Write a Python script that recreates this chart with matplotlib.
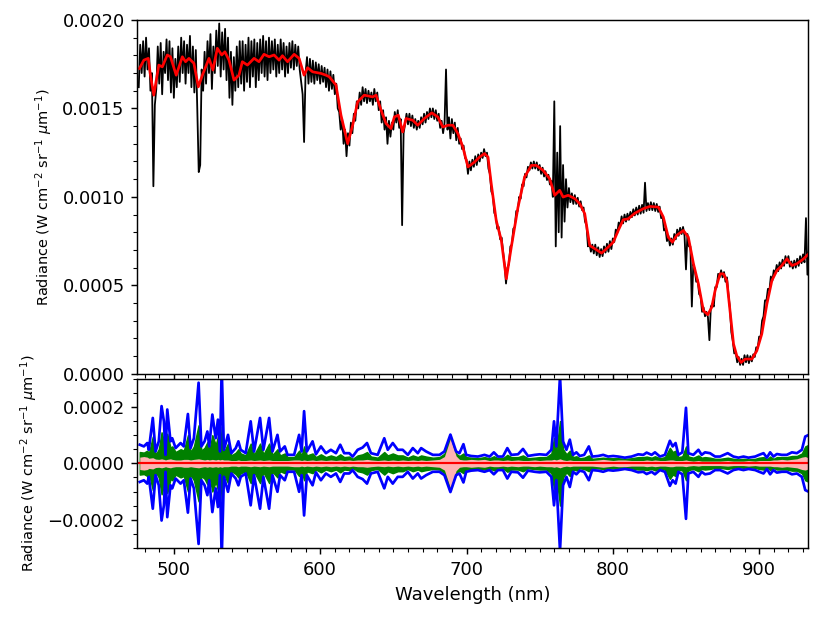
import matplotlib.pyplot as plt
from matplotlib.ticker import MultipleLocator
import numpy as np

# values below are in units of 1e-6 W cm-2 sr-1 um-1
SCALE = 1e-6

# measured spectrum (black), one value per nm from 476 to 934
spec_nm = np.arange(476, 935, 1)
spec_val = [
    1620, 1860, 1700, 1880, 1680, 1900, 1720, 1840, 1600, 1700,
    1060, 1520, 1610, 1850, 1640, 1870, 1580, 1820, 1700, 1890,
    1660, 1880, 1590, 1840, 1560, 1780, 1620, 1850, 1650, 1900,
    1700, 1880, 1640, 1860, 1700, 1910, 1620, 1850, 1590, 1830,
    1500, 1140, 1180, 1720, 1600, 1820, 1640, 1880, 1700, 1920,
    1610, 1850, 1700, 1940, 1740, 1980, 1680, 1930, 1720, 1950,
    1660, 1900, 1560, 1820, 1520, 1790, 1600, 1850, 1620, 1880,
    1640, 1880, 1600, 1860, 1650, 1900, 1620, 1880, 1680, 1890,
    1620, 1870, 1660, 1890, 1700, 1910, 1680, 1880, 1660, 1900,
    1700, 1880, 1720, 1890, 1680, 1860, 1700, 1890, 1720, 1870,
    1680, 1850, 1700, 1870, 1730, 1880, 1720, 1860, 1740, 1850,
    1720, 1650, 1580, 1310, 1700, 1790, 1640, 1780, 1650, 1770,
    1640, 1760, 1660, 1750, 1640, 1740, 1650, 1730, 1620, 1720,
    1600, 1710, 1610, 1690, 1580, 1640, 1500, 1480, 1380, 1440,
    1300, 1380, 1230, 1360, 1290, 1420, 1360, 1470, 1430, 1540,
    1500, 1590, 1520, 1620, 1540, 1610, 1530, 1600, 1540, 1590,
    1520, 1610, 1540, 1590, 1490, 1540, 1420, 1490, 1380, 1450,
    1300, 1430, 1340, 1420, 1380, 1480, 1420, 1490, 1390, 1440,
    840, 1360, 1410, 1470, 1410, 1470, 1400, 1460, 1390, 1440,
    1380, 1430, 1390, 1450, 1410, 1470, 1420, 1480, 1440, 1500,
    1450, 1500, 1440, 1490, 1430, 1470, 1390, 1430, 1360, 1420,
    1720, 1380, 1450, 1330, 1440, 1360, 1420, 1320, 1390, 1300,
    1330, 1270, 1290, 1220, 1210, 1130, 1200, 1150, 1210, 1170,
    1230, 1180, 1240, 1200, 1250, 1220, 1270, 1230, 1250, 1160,
    1130, 1030, 1010, 910, 890, 820, 830, 760, 770, 690,
    620, 510, 600, 620, 720, 730, 820, 830, 920, 920,
    1000, 990, 1070, 1060, 1130, 1110, 1170, 1150, 1195, 1160,
    1200, 1160, 1195, 1150, 1180, 1130, 1165, 1115, 1145, 1095,
    1125, 1070, 1090, 1000, 1540, 720, 1250, 800, 1400, 770,
    1180, 860, 1100, 940, 1050, 970, 1020, 960, 1010, 960,
    995, 945, 975, 925, 940, 860, 840, 720, 740, 690,
    730, 680, 730, 670, 715, 660, 705, 665, 720, 685,
    735, 690, 750, 705, 765, 745, 815, 795, 855, 835,
    890, 850, 900, 860, 905, 870, 915, 885, 930, 895,
    940, 900, 950, 905, 955, 910, 1080, 920, 965, 925,
    970, 925, 965, 920, 960, 915, 945, 880, 890, 810,
    820, 750, 780, 725, 765, 730, 790, 760, 815, 780,
    825, 790, 830, 780, 590, 790, 720, 720, 380, 620,
    590, 520, 530, 450, 440, 350, 375, 325, 350, 320,
    190, 380, 395, 380, 490, 490, 565, 545, 585, 545,
    575, 520, 545, 450, 375, 235, 185, 115, 120, 65,
    95, 50, 85, 50, 105, 65, 105, 60, 100, 70,
    110, 95, 150, 145, 210, 210, 300, 325, 415, 415,
    480, 470, 550, 525, 585, 565, 615, 580, 630, 595,
    645, 610, 665, 625, 665, 605, 635, 595, 640, 600,
    650, 610, 665, 625, 675, 630, 880, 560, 700,
]

# model fit (red)
fit_nm = [
    476.5, 479.5, 482.5, 484.0, 486.3, 489.7, 492.1, 495.5, 497.7, 501.6,
    505.8, 508.0, 510.3, 513.7, 516.7, 519.5, 524.0, 526.7, 529.7, 532.7,
    534.9, 537.7, 541.1, 544.5, 546.8, 550.3, 554.8, 558.2, 561.6, 565.1,
    568.5, 571.9, 574.2, 577.7, 582.2, 585.6, 589.0, 591.4, 594.8, 600.5,
    603.9, 606.2, 610.8, 614.2, 618.8, 622.2, 625.6, 630.1, 635.9, 638.2,
    641.6, 645.0, 648.4, 650.7, 653.4, 656.4, 658.7, 663.3, 666.7, 671.2,
    676.3, 680.4, 683.8, 687.3, 690.7, 694.1, 697.5, 701.0, 705.5, 708.9,
    712.3, 714.7, 716.9, 720.3, 723.8, 727.2, 730.6, 735.2, 739.7, 744.3,
    747.7, 752.3, 756.8, 760.3, 763.7, 766.0, 769.5, 774.0, 777.4, 780.8,
    784.2, 787.7, 792.3, 795.7, 800.3, 803.7, 807.1, 810.5, 815.1, 820.8,
    825.3, 831.1, 834.5, 837.9, 840.7, 843.6, 848.2, 851.6, 855.1, 858.5,
    861.9, 864.9, 867.6, 869.9, 873.3, 875.6, 877.9, 880.1, 882.5, 884.7,
    887.7, 890.4, 895.0, 898.4, 901.8, 905.3, 908.7, 912.1, 915.5, 919.0,
    922.4, 925.8, 930.4, 933.8,
]
fit_val = [
    1726, 1773, 1783, 1688, 1575, 1745, 1735, 1802, 1792, 1688,
    1792, 1764, 1783, 1755, 1622, 1688, 1783, 1717, 1840, 1802,
    1820, 1773, 1660, 1688, 1764, 1745, 1783, 1764, 1806, 1792,
    1802, 1773, 1798, 1764, 1806, 1783, 1688, 1730, 1707, 1698,
    1688, 1679, 1632, 1462, 1301, 1405, 1537, 1575, 1565, 1575,
    1490, 1415, 1386, 1452, 1462, 1367, 1443, 1433, 1405, 1443,
    1475, 1452, 1395, 1405, 1405, 1358, 1282, 1169, 1197, 1225,
    1245, 1225, 1075, 867, 754, 537, 716, 942, 1112, 1178,
    1178, 1150, 1103, 1009, 1037, 999, 1009, 990, 961, 905,
    725, 707, 682, 707, 744, 810, 871, 876, 908, 933,
    946, 942, 886, 772, 744, 782, 810, 772, 622, 508,
    357, 334, 376, 470, 565, 565, 527, 357, 168, 102,
    64, 83, 83, 130, 225, 395, 527, 584, 612, 650,
    612, 622, 650, 678,
]

# residual envelopes (symmetric about zero)
res_nm = [
    476.7, 479.5, 481.8, 482.9, 485.6, 487.5, 489.7, 491.6, 493.2, 494.3,
    495.5, 497.7, 498.9, 501.2, 504.6, 506.8, 509.6, 511.4, 513.7, 516.9,
    518.8, 521.0, 522.9, 524.2, 526.3, 528.6, 530.1, 531.5, 532.7, 534.2,
    537.0, 539.3, 542.3, 544.1, 545.7, 549.1, 552.5, 554.8, 558.9, 561.2,
    565.1, 567.4, 570.8, 572.6, 575.8, 577.7, 582.2, 585.6, 587.3, 589.0,
    590.9, 594.8, 597.1, 600.5, 603.9, 607.3, 610.8, 613.7, 616.4, 619.9,
    622.2, 625.6, 629.0, 632.0, 634.7, 639.3, 643.8, 646.2, 649.6, 653.0,
    656.4, 659.9, 663.3, 666.7, 669.0, 672.4, 677.0, 681.5, 684.9, 689.0,
    692.9, 695.2, 697.9, 699.8, 703.2, 707.8, 712.3, 715.8, 718.7, 721.5,
    724.9, 727.9, 730.6, 735.2, 738.6, 742.0, 746.6, 750.0, 754.6, 758.0,
    759.8, 761.4, 763.9, 766.0, 768.3, 770.6, 772.8, 775.1, 777.4, 780.4,
    783.6, 785.9, 790.0, 793.4, 796.8, 800.2, 803.7, 808.2, 812.8, 817.4,
    820.8, 823.1, 826.5, 828.8, 832.2, 835.6, 839.0, 840.9, 842.9, 844.8,
    847.5, 850.0, 851.6, 855.0, 858.5, 860.7, 863.0, 866.4, 869.9, 873.3,
    878.5, 882.4, 885.9, 889.3, 892.7, 897.3, 900.0, 903.0, 905.3, 907.5,
    909.8, 912.1, 915.5, 918.9, 922.4, 925.8, 929.2, 931.5, 933.5,
]
res_blue = [
    66, 60, 72, 48, 161, 42, 78, 203, 149, 30,
    191, 78, 89, 54, 72, 60, 175, 54, 89, 286,
    60, 78, 113, 60, 173, 89, 155, 42, 340, 48,
    101, 36, 54, 78, 48, 36, 149, 42, 161, 48,
    161, 42, 101, 42, 60, 30, 30, 101, 42, 185,
    42, 78, 32, 60, 36, 48, 36, 66, 36, 36,
    24, 48, 56, 72, 36, 30, 89, 48, 72, 48,
    48, 30, 54, 36, 54, 42, 30, 30, 42, 102,
    42, 36, 68, 30, 26, 24, 30, 24, 39, 24,
    24, 54, 30, 32, 51, 26, 30, 32, 30, 48,
    149, 60, 310, 78, 48, 84, 30, 39, 26, 30,
    60, 24, 26, 30, 24, 26, 24, 20, 24, 32,
    30, 38, 30, 39, 24, 30, 80, 60, 72, 30,
    39, 197, 36, 30, 48, 30, 39, 36, 24, 24,
    36, 24, 20, 24, 20, 24, 30, 36, 20, 39,
    24, 33, 30, 30, 39, 36, 48, 95, 100,
]
res_green = [
    40, 38, 45, 35, 95, 30, 50, 110, 80, 25,
    105, 55, 60, 40, 50, 45, 100, 40, 60, 135,
    45, 55, 75, 45, 100, 65, 95, 35, 130, 40,
    70, 28, 38, 50, 35, 28, 70, 30, 70, 32,
    70, 30, 50, 28, 35, 22, 22, 45, 28, 60,
    28, 35, 22, 32, 22, 28, 22, 32, 22, 24,
    16, 28, 32, 40, 24, 20, 40, 28, 35, 28,
    28, 20, 28, 22, 28, 24, 20, 22, 34, 95,
    34, 26, 35, 22, 20, 18, 22, 18, 25, 18,
    18, 30, 22, 22, 28, 18, 20, 22, 22, 35,
    90, 45, 150, 50, 32, 45, 22, 25, 18, 20,
    28, 16, 18, 20, 18, 18, 18, 16, 18, 22,
    22, 24, 20, 25, 18, 22, 55, 40, 45, 22,
    25, 60, 24, 20, 28, 20, 22, 20, 16, 16,
    20, 16, 14, 16, 14, 16, 20, 22, 14, 24,
    16, 22, 22, 22, 26, 26, 35, 60, 65,
]
res_pink = [
    22, 24, 22, 18, 20, 15, 14, 16, 14, 12,
    14, 16, 14, 12, 12, 14, 14, 12, 14, 16,
    14, 12, 14, 12, 14, 12, 14, 12, 14, 12,
    12, 10, 10, 12, 10, 10, 12, 10, 12, 10,
    12, 10, 10, 10, 10, 10, 12, 12, 10, 12,
    10, 12, 10, 12, 10, 12, 10, 12, 10, 12,
    10, 12, 12, 14, 12, 10, 12, 10, 12, 10,
    12, 10, 12, 10, 12, 10, 12, 14, 24, 88,
    26, 14, 12, 12, 14, 12, 14, 10, 12, 12,
    10, 12, 10, 12, 10, 10, 12, 10, 12, 12,
    14, 12, 16, 12, 10, 12, 10, 10, 10, 10,
    10, 10, 12, 14, 12, 10, 12, 12, 10, 10,
    10, 12, 10, 12, 10, 10, 12, 12, 10, 10,
    10, 12, 10, 8, 10, 8, 8, 8, 8, 8,
    10, 8, 8, 8, 10, 8, 10, 10, 10, 10,
    12, 12, 14, 12, 14, 16, 22, 24, 20,
]

ylab = r'Radiance (W cm$^{-2}$ sr$^{-1}$ $\mu$m$^{-1}$)'

fig = plt.figure(figsize=(6.4, 4.8), dpi=130)
ax1 = fig.add_axes([0.165, 0.401, 0.806, 0.567])
ax2 = fig.add_axes([0.165, 0.122, 0.806, 0.271], sharex=ax1)

# top: spectrum + fit
ax1.plot(spec_nm, np.array(spec_val) * SCALE, color='k', lw=1.0)
ax1.plot(fit_nm, np.array(fit_val) * SCALE, color='r', lw=1.5)
ax1.set_ylim(0, 0.002)
ax1.set_xlim(475, 933.3)
ax1.yaxis.set_major_locator(MultipleLocator(0.0005))
ax1.yaxis.set_minor_locator(MultipleLocator(0.0001))
ax1.xaxis.set_major_locator(MultipleLocator(100))
ax1.xaxis.set_minor_locator(MultipleLocator(10))
ax1.tick_params(labelbottom=False)
ax1.set_ylabel(ylab, fontsize=8)

# bottom: residual bands
b = np.array(res_blue) * SCALE
g = np.array(res_green) * SCALE
p = np.array(res_pink) * SCALE
ax2.fill_between(res_nm, -g, g, color='g', lw=0.8)
ax2.fill_between(res_nm, -p, p, color='#ffb3b3', lw=0)
ax2.plot(res_nm, b, color='b', lw=1.5)
ax2.plot(res_nm, -b, color='b', lw=1.5)
ax2.axhline(0, color='r', lw=1.2)
ax2.set_ylim(-0.0003, 0.0003)
ax2.yaxis.set_major_locator(MultipleLocator(0.0002))
ax2.yaxis.set_minor_locator(MultipleLocator(0.00005))
ax2.set_ylabel(ylab, fontsize=8)
ax2.set_xlabel('Wavelength (nm)')

fig.savefig('out.png', dpi=130)
